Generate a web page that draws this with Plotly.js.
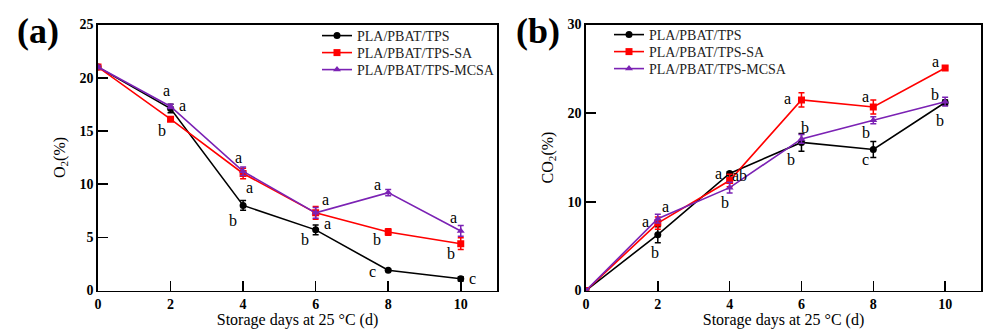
<!DOCTYPE html>
<html>
<head>
<meta charset="utf-8">
<script src="https://cdn.plot.ly/plotly-3.0.1.min.js"></script>
<style>html,body{margin:0;padding:0;background:#fff;}#chart{width:984px;height:329px;}</style>
</head>
<body>
<div id="chart"></div>
<script>
const days = [0, 2, 4, 6, 8, 10];
const seriesNames = ["PLA/PBAT/TPS", "PLA/PBAT/TPS-SA", "PLA/PBAT/TPS-MCSA"];

// Panel (a): O2 (%)
const o2TPS = [21.0, 17.1, 8.0, 5.7, 1.9, 1.1];
const o2TPSerr = [0.15, 0.4, 0.45, 0.45, 0.1, 0.2];
const o2SA = [21.0, 16.1, 11.0, 7.3, 5.5, 4.4];
const o2SAerr = [0.15, 0.2, 0.5, 0.6, 0.3, 0.55];
const o2MCSA = [21.0, 17.3, 11.2, 7.3, 9.2, 5.6];
const o2MCSAerr = [0.15, 0.2, 0.4, 0.5, 0.3, 0.5];

// Panel (b): CO2 (%)
const co2TPS = [0.0, 6.3, 13.2, 16.7, 15.9, 21.2];
const co2TPSerr = [0.1, 0.9, 0.2, 1.0, 0.9, 0.3];
const co2SA = [0.0, 7.6, 12.4, 21.5, 20.7, 25.1];
const co2SAerr = [0.1, 0.7, 0.7, 0.8, 0.8, 0.2];
const co2MCSA = [0.0, 8.1, 11.6, 17.1, 19.2, 21.3];
const co2MCSAerr = [0.1, 0.5, 0.6, 0.5, 0.4, 0.5];

// Significance letters [x, y, text]
const lettersA = [
  [1.88, 18.8, "a"], [2.32, 17.4, "a"], [1.77, 15.0, "b"],
  [3.87, 12.5, "a"], [4.17, 9.7, "a"], [3.73, 6.6, "b"],
  [6.27, 8.55, "a"], [6.33, 6.3, "a"], [5.72, 4.8, "b"],
  [7.71, 10.0, "a"], [7.68, 4.8, "b"], [7.57, 1.8, "c"],
  [9.81, 6.9, "a"], [9.72, 3.5, "b"], [10.33, 1.1, "c"]
];
const lettersB = [
  [1.66, 7.8, "a"], [2.22, 9.5, "a"], [1.91, 4.3, "b"],
  [3.68, 13.2, "a"], [4.27, 13.0, "ab"], [3.88, 9.9, "b"],
  [5.60, 21.6, "a"], [6.09, 18.4, "b"], [5.71, 14.8, "b"],
  [7.78, 21.9, "a"], [7.81, 17.8, "b"], [7.78, 14.8, "c"],
  [9.72, 25.8, "a"], [9.72, 22.1, "b"], [9.86, 19.2, "b"]
];

const colors = ["#000000", "#ff0000", "#7b22b4"];
const symbols = ["circle", "square", "triangle-up"];
const serif = "Liberation Serif";

function tr(y, err, i, xa, ya, leg) {
  return {
    x: days, y: y, type: "scatter", mode: "lines+markers",
    name: seriesNames[i], xaxis: xa, yaxis: ya, legend: leg,
    line: {color: colors[i], width: 1.6},
    marker: {color: colors[i], symbol: symbols[i], size: 7},
    error_y: {type: "data", array: err, visible: true, color: colors[i], thickness: 1.5, width: 3}
  };
}

const data = [
  tr(o2TPS, o2TPSerr, 0, "x", "y", "legend"),
  tr(o2SA, o2SAerr, 1, "x", "y", "legend2"),
  tr(o2MCSA, o2MCSAerr, 2, "x", "y", "legend3"),
  tr(co2TPS, co2TPSerr, 0, "x2", "y2", "legend4"),
  tr(co2SA, co2SAerr, 1, "x2", "y2", "legend5"),
  tr(co2MCSA, co2MCSAerr, 2, "x2", "y2", "legend6")
];

const tickFont = {family: serif, size: 14, color: "#000", weight: "bold"};
const titleFont = {family: serif, size: 16, color: "#000"};

function xax(domain, anchor) {
  return {
    domain: domain, anchor: anchor, range: [0, 11], tickvals: [0, 2, 4, 6, 8, 10],
    showline: true, mirror: true, linecolor: "#000", linewidth: 1.6,
    ticks: "inside", ticklen: 10, tickwidth: 1.6, tickcolor: "#000",
    showgrid: false, zeroline: false, tickfont: tickFont,
    title: {text: "Storage days at 25 °C (d)", font: titleFont, standoff: 1},
    automargin: false
  };
}
function yax(domain, anchor, range, dtick, title) {
  return {
    domain: domain, anchor: anchor, range: range, dtick: dtick,
    showline: true, mirror: true, linecolor: "#000", linewidth: 1.6,
    ticks: "inside", ticklen: 10, tickwidth: 1.6, tickcolor: "#000",
    showgrid: false, zeroline: false, tickfont: tickFont,
    title: {text: title, font: titleFont, standoff: 10},
    automargin: false
  };
}

const ann = [];
lettersA.forEach(l => ann.push({x: l[0], y: l[1], text: l[2], xref: "x", yref: "y", showarrow: false, font: {family: serif, size: 16, color: "#000"}}));
lettersB.forEach(l => ann.push({x: l[0], y: l[1], text: l[2], xref: "x2", yref: "y2", showarrow: false, font: {family: serif, size: 16, color: "#000"}}));
ann.push({x: 0.039, y: 0.907, xref: "paper", yref: "paper", xanchor: "center", yanchor: "middle", text: "<b>(a)</b>", showarrow: false, font: {family: serif, size: 36, color: "#000"}});
ann.push({x: 0.547, y: 0.907, xref: "paper", yref: "paper", xanchor: "center", yanchor: "middle", text: "<b>(b)</b>", showarrow: false, font: {family: serif, size: 36, color: "#000"}});

const legFont = {family: serif, size: 14, color: "#222"};
function leg(xpx, ypx) {
  return {x: xpx / 984, y: 1 - ypx / 329, xanchor: "left", yanchor: "middle",
          bgcolor: "rgba(0,0,0,0)", font: legFont, itemwidth: 30, borderwidth: 0};
}
const layout = {
  width: 984, height: 329,
  margin: {l: 0, r: 0, t: 0, b: 0},
  font: {family: serif},
  paper_bgcolor: "#fff", plot_bgcolor: "#fff",
  showlegend: true,
  xaxis: xax([0.0996, 0.5051], "y"),
  yaxis: yax([0.117, 0.9255], "x", [0, 25], 5, "O<sub>2</sub>(%)"),
  xaxis2: xax([0.5955, 0.997], "y2"),
  yaxis2: yax([0.117, 0.9255], "x2", [0, 30], 10, "CO<sub>2</sub>(%)"),
  legend: leg(317, 36),
  legend2: leg(317, 53),
  legend3: leg(317, 70),
  legend4: leg(609, 35),
  legend5: leg(609, 52),
  legend6: leg(609, 69),
  annotations: ann
};

Plotly.newPlot("chart", data, layout, {displayModeBar: false, staticPlot: true});
</script>
</body>
</html>
